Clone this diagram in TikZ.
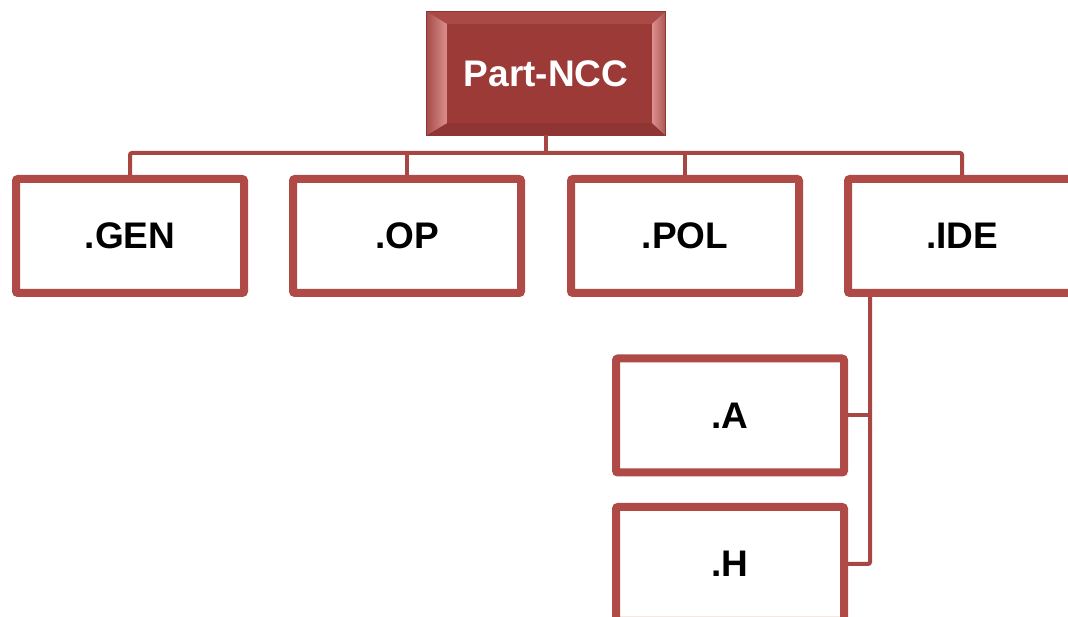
\documentclass[tikz,border=0pt]{standalone}
\usepackage{fontspec}
\setmainfont{Liberation Sans}
\usetikzlibrary{calc}
\definecolor{edgered}{HTML}{AF4A47}
\definecolor{linkred}{HTML}{A84643}
\definecolor{facered}{HTML}{9C3A38}
\definecolor{bevlight}{HTML}{DC8F8C}
\definecolor{bevtop}{HTML}{AA4A47}
\definecolor{bevdark}{HTML}{8F3533}
\tikzset{
  unitbox/.style={draw=edgered, line width=8pt, fill=white, rounded corners=2pt,
    minimum width=228pt, minimum height=114pt, inner sep=0pt,
    font=\fontsize{37}{44}\selectfont\bfseries, text=black},
  link/.style={draw=linkred, line width=4pt, rounded corners=2pt},
  rootbox/.style={minimum width=238pt, minimum height=123pt, inner sep=0pt,
    font=\fontsize{37}{44}\selectfont\bfseries, text=white}
}
\begin{document}
\begin{tikzpicture}[x=1pt,y=1pt]
\useasboundingbox (0,0) rectangle (1068,617);
\clip (0,0) rectangle (1068,617);

% bevelled top box
\node[rootbox] (root) at (546,543.5) {};
\fill[facered] (root.south west) rectangle (root.north east);
\coordinate (iSW) at ($(root.south west)+(20,12)$);
\coordinate (iNW) at ($(root.north west)+(20,-12)$);
\coordinate (iNE) at ($(root.north east)+(-13,-12)$);
\coordinate (iSE) at ($(root.south east)+(-13,12)$);
\fill[bevtop] (root.north west) -- (root.north east) -- (iNE) -- (iNW) -- cycle;
\fill[bevdark] (root.south west) -- (root.south east) -- (iSE) -- (iSW) -- cycle;
\shade[left color=facered!90!white, right color=bevlight]
  (root.north west) -- (iNW) -- (iSW) -- (root.south west) -- cycle;
\shade[left color=bevlight, right color=facered!85!white]
  (root.north east) -- (iNE) -- (iSE) -- (root.south east) -- cycle;
\fill[facered] (iSW) rectangle (iNE);
\draw[bevdark, line width=1pt] (root.south west) rectangle (root.north east);
\node[rootbox] at (root.center) {Part-NCC};

% first level
\node[unitbox] (gen) at (130,381) {.GEN};
\node[unitbox] (op)  at (407,381) {.OP};
\node[unitbox] (pol) at (685,381) {.POL};
\node[unitbox] (ide) at (962,381) {.IDE};

% second level under .IDE
\node[unitbox] (a) at (730,201.5) {.A};
\node[unitbox] (h) at (730,53) {.H};

% connectors
\coordinate (bar) at (546,464);
\coordinate (spine) at (870,0);
\draw[link] (root.south) -- (bar);
\draw[link] (gen.north) |- (bar) -| (ide.north);
\draw[link] (op.north) -- (op.north |- bar);
\draw[link] (pol.north) -- (pol.north |- bar);
\draw[link] (ide.south -| spine) |- (h.east);
\draw[link] (a.east) -- (a.east -| spine);
\end{tikzpicture}
\end{document}
